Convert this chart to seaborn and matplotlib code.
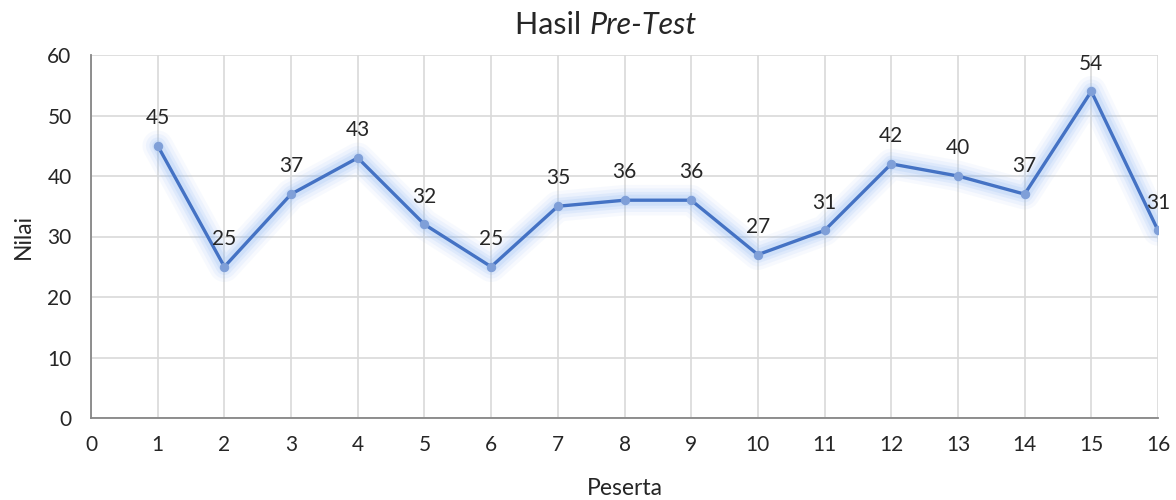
import matplotlib
matplotlib.use("Agg")
import matplotlib.pyplot as plt
import seaborn as sns
import pandas as pd

# nilai pre-test per peserta
peserta = list(range(1, 17))
nilai = [45, 25, 37, 43, 32, 25, 35, 36, 36, 27, 31, 42, 40, 37, 54, 31]

df = pd.DataFrame({"Peserta": peserta, "Nilai": nilai})

sns.set_style("white")
plt.rcParams['font.family'] = ['Lato', 'DejaVu Sans']

fig = plt.figure(figsize=(11.76, 5.0), dpi=100)
ax = fig.add_axes([0.0774, 0.164, 0.9073, 0.726])

# soft glow under the line
for w, a in [(22, 0.07), (17, 0.10), (12, 0.14), (8, 0.18)]:
    sns.lineplot(data=df, x="Peserta", y="Nilai", ax=ax, color="#8fb8f5",
                 linewidth=w, alpha=a, solid_capstyle="round",
                 solid_joinstyle="round", zorder=2)

sns.lineplot(data=df, x="Peserta", y="Nilai", ax=ax, color="#4472C4",
             linewidth=2.4, marker="o", markersize=6,
             markerfacecolor="#7f9fd8", markeredgecolor="#7f9fd8",
             zorder=3)

for x, y in zip(peserta, nilai):
    ax.annotate(str(y), (x, y), xytext=(0, 20), textcoords="offset points",
                ha="center", va="center", fontsize=15, color="#262626")

ax.set_xlim(0, 16)
ax.set_ylim(0, 60)
ax.set_xticks(range(0, 17))
ax.set_yticks(range(0, 61, 10))
ax.grid(True, color="#d9d9d9", linewidth=1.2)
ax.set_axisbelow(True)
for s in ["top", "right"]:
    ax.spines[s].set_visible(False)
for s in ["left", "bottom"]:
    ax.spines[s].set_color("#868686")
    ax.spines[s].set_linewidth(1.3)
ax.tick_params(length=0, labelsize=15, labelcolor="#262626")
ax.tick_params(axis="y", pad=14)
ax.tick_params(axis="x", pad=12)
ax.set_xlabel("Peserta", fontsize=16.5, color="#262626", labelpad=17)
ax.set_ylabel("Nilai", fontsize=16.5, color="#262626", labelpad=10)

# judul dengan bagian miring
fig.canvas.draw()
r = fig.canvas.get_renderer()
t1 = fig.text(0, 0.95, "Hasil ", fontsize=22, color="#262626", va="center")
t2 = fig.text(0, 0.95, "Pre-Test", fontsize=22, color="#262626", va="center",
              style="italic")
w1 = t1.get_window_extent(r).width / fig.bbox.width
w2 = t2.get_window_extent(r).width / fig.bbox.width
cx = 606 / 1176
start = cx - (w1 + w2) / 2
t1.set_x(start)
t2.set_x(start + w1)

fig.savefig("out.png", dpi=100)
